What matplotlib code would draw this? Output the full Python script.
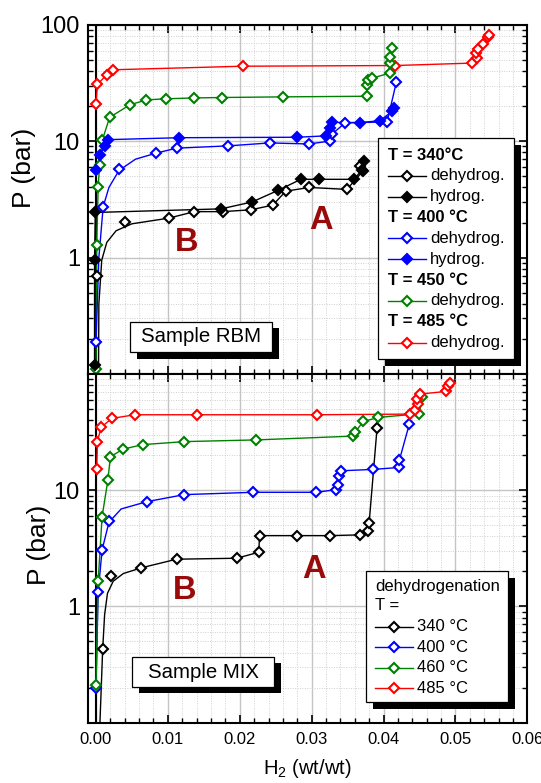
import numpy as np
import matplotlib
matplotlib.use("Agg")
import matplotlib.pyplot as plt
from matplotlib.ticker import MultipleLocator, LogLocator, NullFormatter, FormatStrFormatter
from matplotlib.patches import Rectangle
from matplotlib.lines import Line2D

plt.rcParams['font.family'] = ['Liberation Sans', 'DejaVu Sans']
plt.rcParams['mathtext.fontset'] = 'custom'
plt.rcParams['mathtext.rm'] = 'Liberation Sans'
plt.rcParams['mathtext.it'] = 'Liberation Sans:italic'

# ---------------- data: Sample RBM (top) ----------------
rbm340d_x = [0.0002, 0.0041, 0.0101, 0.0137, 0.0176, 0.0215, 0.0246, 0.0264, 0.0297, 0.0349, 0.0371, 0.0367]
rbm340d_p = [0.70, 2.04, 2.18, 2.48, 2.48, 2.57, 2.82, 3.72, 4.0, 3.85, 5.5, 6.1]
rbm340d_hx = [0.00035, 0.0004, 0.0008, 0.0015, 0.0028, 0.005, 0.0101]
rbm340d_hp = [0.1, 0.4, 0.95, 1.35, 1.7, 1.95, 2.18]

rbm340h_x = [-0.0002, -0.0002, -0.0001, 0.0174, 0.0217, 0.0253, 0.0285, 0.0310, 0.0359, 0.0370, 0.0373]
rbm340h_p = [0.12, 0.95, 2.44, 2.62, 3.0, 3.77, 4.7, 4.7, 4.7, 5.67, 6.7]

rbm400d_x = [0.0, 0.001, 0.0032, 0.0084, 0.0112, 0.0183, 0.0242, 0.0296, 0.0325, 0.0329, 0.0347, 0.0405, 0.0418]
rbm400d_p = [0.19, 2.74, 5.75, 7.9, 8.7, 9.1, 9.65, 9.45, 10.0, 11.6, 14.4, 14.6, 32.5]
rbm400d_hx = [0.0, 0.0004, 0.001, 0.0018, 0.0032, 0.0055, 0.0084]
rbm400d_hp = [0.19, 1.0, 2.74, 4.0, 5.6, 7.0, 7.9]

rbm400h_x = [0.0, 0.0006, 0.0012, 0.0017, 0.0116, 0.0280, 0.0320, 0.0325, 0.0329, 0.0367, 0.0395, 0.0412, 0.0415]
rbm400h_p = [5.7, 7.6, 9.0, 10.3, 10.7, 10.8, 11.1, 13.0, 14.5, 14.4, 15.0, 18.0, 19.3]

rbm450d_x = [0.0, 0.0001, 0.0003, 0.0005, 0.0009, 0.0019, 0.0047, 0.0070, 0.0097, 0.0137, 0.0175,
             0.0260, 0.0377, 0.0377, 0.0379, 0.0384, 0.0409, 0.0409, 0.0409, 0.0412]
rbm450d_p = [0.11, 1.28, 4.0, 6.2, 10.3, 16.0, 20.5, 22.6, 23.1, 23.5, 23.7,
             24.0, 24.3, 30.5, 33.7, 34.8, 38.4, 47.3, 53.3, 63.0]

rbm485d_x = [0.0, 0.0002, 0.0015, 0.0023, 0.0204, 0.0416, 0.0523, 0.0530, 0.0528, 0.0532, 0.0539, 0.0545, 0.0547]
rbm485d_p = [20.8, 30.8, 37.1, 41.0, 44.0, 44.6, 46.8, 51.6, 57.0, 61.7, 68.5, 78.3, 81.9]

# ---------------- data: Sample MIX (bottom) ----------------
mix340_x = [0.00094, 0.0021, 0.0063, 0.0112, 0.0196, 0.02265, 0.02275, 0.0280, 0.0326, 0.0367, 0.0379, 0.0380, 0.0391]
mix340_p = [0.43, 1.82, 2.15, 2.55, 2.6, 2.93, 4.07, 4.07, 4.07, 4.13, 4.5, 5.25, 34.3]
mix340_hx = [0.00055, 0.00093, 0.0012, 0.0016, 0.0024, 0.0038, 0.0063]
mix340_hp = [0.1, 0.43, 0.85, 1.3, 1.65, 1.92, 2.15]

mix400_x = [0.0, 0.0003, 0.00085, 0.00176, 0.0071, 0.0123, 0.0219, 0.0306, 0.0334, 0.0336, 0.0338,
            0.0341, 0.0385, 0.0422, 0.0422, 0.0436]
mix400_p = [0.20, 1.33, 3.07, 5.4, 7.98, 9.17, 9.6, 9.6, 10.1, 11.1, 13.3, 14.7, 15.1, 15.7, 18.1, 37.3]
mix400_hx = [0.0, 0.0003, 0.00085, 0.0018, 0.0035, 0.0071]
mix400_hp = [0.20, 1.33, 3.07, 5.3, 6.9, 7.98]

mix460_x = [0.0, 0.0003, 0.00085, 0.00166, 0.0020, 0.00378, 0.00656, 0.0123, 0.0223, 0.0357, 0.0361,
            0.0372, 0.0393, 0.0450, 0.0453]
mix460_p = [0.21, 1.64, 5.93, 12.3, 19.4, 22.6, 24.7, 26.2, 27.1, 29.2, 32.0, 39.1, 42.3, 45.5, 64.0]

mix485_x = [0.0001, 0.0002, 0.0007, 0.0022, 0.0054, 0.0141, 0.0307, 0.0437, 0.0444, 0.0448, 0.0447,
            0.0451, 0.0487, 0.0489, 0.0492]
mix485_p = [15.2, 26.2, 34.7, 41.5, 44.6, 44.6, 44.6, 45.2, 49.0, 55.0, 60.9, 67.2, 70.8, 79.2, 84.5]

x_ticks = [0.00, 0.01, 0.02, 0.03, 0.04, 0.05, 0.06]
top_yticks = [1, 10, 100]
bot_yticks = [1, 10]

# ---------------- figure ----------------
W, H = 541, 783
fig = plt.figure(figsize=(W / 100, H / 100), dpi=100)

def F(px, py):
    return (px / W, 1 - py / H)

L, R = 88.3, 527.3
ax_top = fig.add_axes([L / W, 1 - 374 / H, (R - L) / W, 349.3 / H])
ax_bot = fig.add_axes([L / W, 1 - 722.7 / H, (R - L) / W, 348.7 / H])

MS = 5.6
MEW = 1.5
LW = 1.0
DR = '#990a0a'


def series(ax, x, p, color, filled=False, hx=None, hp=None, skip=0):
    if hx is not None:
        ax.plot(hx, hp, '-', color=color, lw=LW, zorder=3)
        ax.plot(x[skip:], p[skip:], '-', color=color, lw=LW, zorder=3)
    else:
        ax.plot(x, p, '-', color=color, lw=LW, zorder=3)
    ax.plot(x, p, 'D', ms=MS, mew=MEW, mec=color,
            mfc=color if filled else 'white', zorder=4, clip_on=False)


for ax, yt in ((ax_top, top_yticks), (ax_bot, bot_yticks)):
    ax.set_yscale('log')
    ax.set_xlim(-0.00107, 0.06)
    ax.set_ylim(0.1, 100)
    ax.xaxis.set_major_locator(MultipleLocator(0.01))
    ax.xaxis.set_minor_locator(MultipleLocator(0.002))
    ax.set_yticks(yt)
    ax.set_yticklabels([str(v) for v in yt])
    ax.yaxis.set_minor_locator(LogLocator(base=10, subs=np.arange(2, 10)))
    ax.yaxis.set_minor_formatter(NullFormatter())
    ax.grid(which='major', color='#c4c4c4', lw=1.0, ls='-')
    ax.grid(which='minor', color='#cfcfcf', lw=0.7, ls=(0, (1, 1.5)))
    ax.set_axisbelow(True)
    ax.tick_params(which='both', direction='in', top=True, right=True, colors='black')
    ax.tick_params(which='major', length=6, width=1.2)
    ax.tick_params(which='minor', length=3.5, width=1.0)
    ax.tick_params(axis='y', which='major', labelsize=17, pad=6)
    ax.tick_params(axis='x', which='major', labelsize=12, pad=7)
    for s in ax.spines.values():
        s.set_linewidth(1.5)
    ax.axvline(0, color='black', lw=1.5, zorder=2)

ax_top.set_xticks(x_ticks)
ax_top.set_xticklabels([])
ax_bot.set_xticks(x_ticks)
ax_bot.xaxis.set_major_formatter(FormatStrFormatter('%.2f'))
ax_top.set_xlim(-0.00107, 0.06)
ax_bot.set_xlim(-0.00107, 0.06)

# top series
series(ax_top, rbm485d_x, rbm485d_p, 'red')
series(ax_top, rbm450d_x, rbm450d_p, 'green')
series(ax_top, rbm400d_x, rbm400d_p, 'blue', hx=rbm400d_hx, hp=rbm400d_hp, skip=3)
series(ax_top, rbm400h_x, rbm400h_p, 'blue', filled=True)
series(ax_top, rbm340d_x, rbm340d_p, 'black', hx=rbm340d_hx, hp=rbm340d_hp, skip=2)
series(ax_top, rbm340h_x, rbm340h_p, 'black', filled=True)

# bottom series
series(ax_bot, mix340_x, mix340_p, 'black', hx=mix340_hx, hp=mix340_hp, skip=2)
series(ax_bot, mix400_x, mix400_p, 'blue', hx=mix400_hx, hp=mix400_hp, skip=4)
series(ax_bot, mix460_x, mix460_p, 'green')
series(ax_bot, mix485_x, mix485_p, 'red')

# axis labels
fig.text(*F(24, 168), 'P (bar)', rotation=90, fontsize=19, ha='center', va='center')
fig.text(*F(39, 545), 'P (bar)', rotation=90, fontsize=19, ha='center', va='center')
fig.text(*F(307.8, 769), 'H$_2$ (wt/wt)', fontsize=14.5, ha='center', va='center')

# A / B labels
for (px, py, t) in ((320.7, 220, 'A'), (186.2, 242.7, 'B'), (313.8, 570, 'A'), (184.5, 590.7, 'B')):
    fig.text(*F(px, py), t, fontsize=23.5, fontweight='bold', color=DR, ha='center', va='center')


def shadow_box(x0, y0, x1, y1, off=6.5):
    sx, sy = F(x0 + off, y1 + off)
    fig.add_artist(Rectangle((sx, sy), (x1 - x0) / W, (y1 - y0) / H,
                             transform=fig.transFigure, facecolor='black', edgecolor='none', zorder=10))
    bx, by = F(x0, y1)
    fig.add_artist(Rectangle((bx, by), (x1 - x0) / W, (y1 - y0) / H,
                             transform=fig.transFigure, facecolor='white', edgecolor='black', lw=0.9, zorder=11))


# sample boxes
shadow_box(130.3, 321.7, 272.4, 352.3)
fig.text(*F(201.3, 337), 'Sample RBM', fontsize=14.7, ha='center', va='center', zorder=12)
shadow_box(132, 656.7, 274, 686.7)
fig.text(*F(203, 672), 'Sample MIX', fontsize=14.7, ha='center', va='center', zorder=12)


def leg_entry(xl0, xl1, xt, py, color, filled, label):
    (a, b), (c, d) = F(xl0, py), F(xl1, py)
    fig.add_artist(Line2D([a, c], [b, d], color=color, lw=LW, transform=fig.transFigure, zorder=12))
    m = F((xl0 + xl1) / 2, py)
    fig.add_artist(Line2D([m[0]], [m[1]], marker='D', ms=MS, mew=MEW, mec=color,
                          mfc=color if filled else 'white', transform=fig.transFigure, zorder=13))
    fig.text(*F(xt, py), label, fontsize=12, ha='left', va='center', zorder=13)


# top legend
shadow_box(378.3, 137.7, 513.8, 359.3, off=7)
rows = [('T = 340°C', None, None), ('dehydrog.', 'black', False), ('hydrog.', 'black', True),
        ('T = 400 °C', None, None), ('dehydrog.', 'blue', False), ('hydrog.', 'blue', True),
        ('T = 450 °C', None, None), ('dehydrog.', 'green', False),
        ('T = 485 °C', None, None), ('dehydrog.', 'red', False)]
for i, (lab, col, fil) in enumerate(rows):
    py = 155 + 20.85 * i
    if col is None:
        fig.text(*F(388, py), lab, fontsize=12, fontweight='bold', ha='left', va='center', zorder=13)
    else:
        leg_entry(388, 426, 430.3, py, col, fil, lab)

# bottom legend
shadow_box(366.2, 570.7, 507.6, 702.3, off=7)
fig.text(*F(375.2, 586), 'dehydrogenation', fontsize=12, ha='left', va='center', zorder=13)
fig.text(*F(375.2, 606), 'T =', fontsize=12, ha='left', va='center', zorder=13)
for i, (lab, col) in enumerate((('340 °C', 'black'), ('400 °C', 'blue'), ('460 °C', 'green'), ('485 °C', 'red'))):
    leg_entry(375, 413, 417.2, 626.7 + 20.55 * i, col, False, lab)

fig.savefig('out.png', dpi=100)
